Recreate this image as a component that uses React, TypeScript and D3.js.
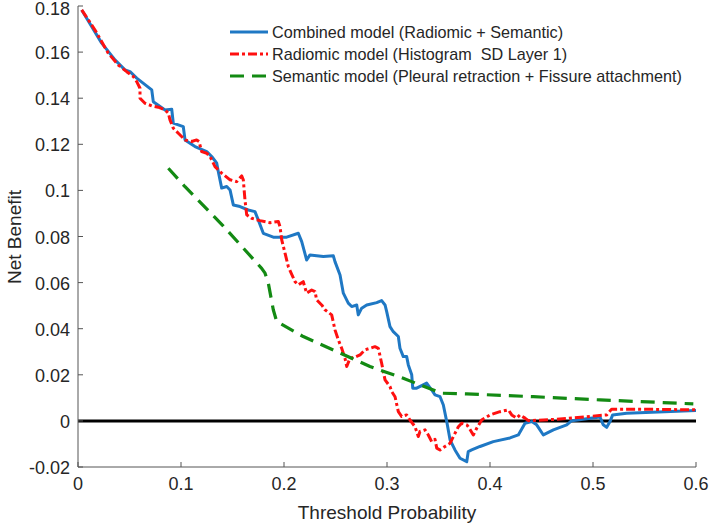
import React from "react";
import * as d3 from "d3";

const combinedX = [0.0036,0.023,0.0359,0.0456,0.0505,0.057,0.0716,0.0731,0.0845,0.091,0.0925,0.1022,0.1039,0.1136,0.125,0.1298,0.1347,0.1362,0.1395,0.1444,0.1476,0.1508,0.1573,0.1653,0.1718,0.175,0.1799,0.1896,0.2026,0.2139,0.2172,0.222,0.2252,0.2382,0.2479,0.2495,0.2544,0.2576,0.2624,0.2657,0.2706,0.2721,0.2754,0.2803,0.29,0.2948,0.2981,0.2997,0.3029,0.3061,0.311,0.3126,0.3158,0.3191,0.3207,0.324,0.325,0.3288,0.3385,0.3434,0.3466,0.3515,0.3547,0.358,0.3612,0.366,0.3709,0.3774,0.3789,0.3822,0.3903,0.4032,0.4194,0.4275,0.434,0.4405,0.4453,0.4518,0.4615,0.4745,0.4793,0.4939,0.5068,0.51,0.5133,0.5165,0.5191,0.5327,0.6];
const combinedY = [0.1783,0.1639,0.1566,0.1523,0.1515,0.1487,0.1436,0.1385,0.1349,0.1352,0.1292,0.1277,0.1219,0.119,0.1168,0.1147,0.1118,0.1082,0.101,0.1017,0.1002,0.0937,0.093,0.0915,0.0908,0.0872,0.0814,0.0797,0.0797,0.0814,0.0778,0.0698,0.072,0.0713,0.0716,0.0691,0.0633,0.0554,0.0511,0.0496,0.0503,0.046,0.0489,0.0503,0.0513,0.0522,0.0503,0.0474,0.0409,0.0387,0.0366,0.0315,0.0279,0.0279,0.0243,0.02,0.0142,0.0142,0.0164,0.0134,0.0113,0.0105,0.0069,-0.0003,-0.0082,-0.0126,-0.0162,-0.0177,-0.0133,-0.0126,-0.0111,-0.009,-0.0074,-0.0061,-0.001,-0.0003,-0.0017,-0.0061,-0.0039,-0.0017,0.0001,0.0009,0.0017,-0.0017,-0.0028,-0.0003,0.0026,0.0033,0.0045];

const radiomicX = [0.0036,0.0165,0.0294,0.0391,0.0473,0.0537,0.057,0.0602,0.0602,0.065,0.0716,0.078,0.0845,0.0877,0.0893,0.0925,0.0974,0.1039,0.1104,0.1152,0.1175,0.1201,0.125,0.1282,0.133,0.1395,0.1476,0.1541,0.1589,0.1605,0.1621,0.1638,0.1686,0.1767,0.1864,0.1945,0.1961,0.1978,0.201,0.2042,0.2107,0.2139,0.2187,0.222,0.2269,0.2301,0.2317,0.2366,0.2398,0.2463,0.2495,0.2528,0.256,0.2592,0.2609,0.2641,0.2689,0.2738,0.2786,0.2835,0.2883,0.2916,0.2948,0.2981,0.3029,0.3046,0.3078,0.311,0.3143,0.3191,0.3223,0.3272,0.3304,0.332,0.3369,0.3401,0.3434,0.3466,0.3483,0.3515,0.3563,0.3612,0.3644,0.3693,0.3725,0.3774,0.3789,0.3838,0.3871,0.3919,0.4,0.4097,0.4178,0.4211,0.4259,0.4291,0.434,0.4372,0.4647,0.5133,0.5181,0.5391,0.6];
const radiomicY = [0.1783,0.1696,0.1595,0.1544,0.1515,0.1494,0.1472,0.1443,0.14,0.1378,0.1367,0.1361,0.1349,0.1335,0.1306,0.127,0.1248,0.1219,0.1212,0.1219,0.1212,0.1168,0.1161,0.1147,0.1103,0.1075,0.1046,0.1038,0.1063,0.1046,0.0959,0.0894,0.0879,0.0869,0.086,0.0865,0.0843,0.0785,0.0728,0.0669,0.0604,0.059,0.0604,0.0554,0.0568,0.0561,0.0525,0.0503,0.0482,0.046,0.0395,0.0351,0.0315,0.0272,0.0236,0.0272,0.0276,0.0286,0.0308,0.0315,0.0322,0.0315,0.025,0.0178,0.0149,0.0127,0.0105,0.004,0.0019,0.0026,0.0004,-0.0025,-0.0068,-0.0046,-0.0039,-0.0061,-0.009,-0.008,-0.0118,-0.0126,-0.0111,-0.0097,-0.0068,-0.0025,-0.001,-0.0017,-0.0025,-0.0061,-0.0032,0.0004,0.0026,0.004,0.0048,0.0026,0.0012,0.0026,0.0012,0.0001,0.0007,0.0026,0.0051,0.0051,0.0048];

const semanticX = [0.0877,0.1039,0.1411,0.1783,0.1816,0.1848,0.1896,0.1929,0.2187,0.2512,0.2835,0.3158,0.332,0.345,0.3531,0.3774,0.442,0.5068,0.5974];
const semanticY = [0.1096,0.1016,0.0845,0.0662,0.0641,0.0597,0.0482,0.0431,0.0366,0.0301,0.0236,0.0185,0.0156,0.0134,0.012,0.0117,0.0105,0.0091,0.0074];

const xTicks = [0, 0.1, 0.2, 0.3, 0.4, 0.5, 0.6];
const yTicks = [-0.02, 0, 0.02, 0.04, 0.06, 0.08, 0.1, 0.12, 0.14, 0.16, 0.18];
const legendLabels = [
  "Combined model (Radiomic + Semantic)",
  "Radiomic model (Histogram  SD Layer 1)",
  "Semantic model (Pleural retraction + Fissure attachment)",
];

const FONT = "'Liberation Sans', Arial, sans-serif";

export default function App() {
  const x = d3.scaleLinear().domain([0, 0.6]).range([78, 696]);
  const y = d3.scaleLinear().domain([-0.02, 0.18]).range([467, 6]);
  const line = d3
    .line<[number, number]>()
    .x((d) => x(d[0]))
    .y((d) => y(d[1]));
  const zip = (a: number[], b: number[]) => a.map((v, i) => [v, b[i]] as [number, number]);

  const series = [
    { d: zip(combinedX, combinedY), color: "#1f78c4", dash: undefined, w: 3 },
    { d: zip(radiomicX, radiomicY), color: "#ff1010", dash: "9,3,3,3", w: 3 },
    { d: zip(semanticX, semanticY), color: "#138a13", dash: "14,8", w: 3.2 },
  ];
  const axisColor = "#555";
  const textColor = "#262626";

  return (
    <svg
      width={709}
      height={525}
      style={{ position: "absolute", left: 0, top: 0, background: "#fff" }}
      fontFamily={FONT}
    >
      <rect width={709} height={525} fill="#fff" />
      <line x1={x(0)} x2={x(0.6)} y1={y(0)} y2={y(0)} stroke="#000" strokeWidth={3} />
      <line x1={x(0)} x2={x(0)} y1={y(-0.02)} y2={y(0.18)} stroke={axisColor} strokeWidth={1} />
      <line x1={x(0)} x2={x(0.6)} y1={y(-0.02)} y2={y(-0.02)} stroke={axisColor} strokeWidth={1} />
      {xTicks.map((t) => (
        <g key={"x" + t}>
          <line x1={x(t)} x2={x(t)} y1={y(-0.02)} y2={y(-0.02) - 5} stroke={axisColor} />
          <text x={x(t)} y={484} textAnchor="middle" dominantBaseline="central" fontSize={18} fill={textColor}>
            {String(t)}
          </text>
        </g>
      ))}
      {yTicks.map((t) => (
        <g key={"y" + t}>
          <line x1={x(0)} x2={x(0) + 5} y1={y(t)} y2={y(t)} stroke={axisColor} />
          <text
            x={70}
            y={Math.max(y(t) + 1, 9)}
            textAnchor="end"
            dominantBaseline="central"
            fontSize={18}
            fill={textColor}
          >
            {String(+t.toFixed(2))}
          </text>
        </g>
      ))}
      <text x={387} y={512} textAnchor="middle" dominantBaseline="central" fontSize={19} fill={textColor}>
        Threshold Probability
      </text>
      <text
        transform={`translate(14,237) rotate(-90)`}
        textAnchor="middle"
        dominantBaseline="central"
        fontSize={19}
        fill={textColor}
      >
        Net Benefit
      </text>
      {series.map((s, i) => (
        <path
          key={i}
          d={line(s.d) || ""}
          fill="none"
          stroke={s.color}
          strokeWidth={s.w}
          strokeDasharray={s.dash}
          strokeLinejoin="round"
        />
      ))}
      {series.map((s, i) => (
        <g key={"lg" + i}>
          <line
            x1={230}
            x2={268}
            y1={32 + i * 22}
            y2={32 + i * 22}
            stroke={s.color}
            strokeWidth={s.w}
            strokeDasharray={s.dash}
          />
          <text
            x={272}
            y={32 + i * 22}
            dominantBaseline="central"
            fontSize={16.2}
            fill={textColor}
            style={{ whiteSpace: "pre" }}
          >
            {legendLabels[i]}
          </text>
        </g>
      ))}
    </svg>
  );
}
